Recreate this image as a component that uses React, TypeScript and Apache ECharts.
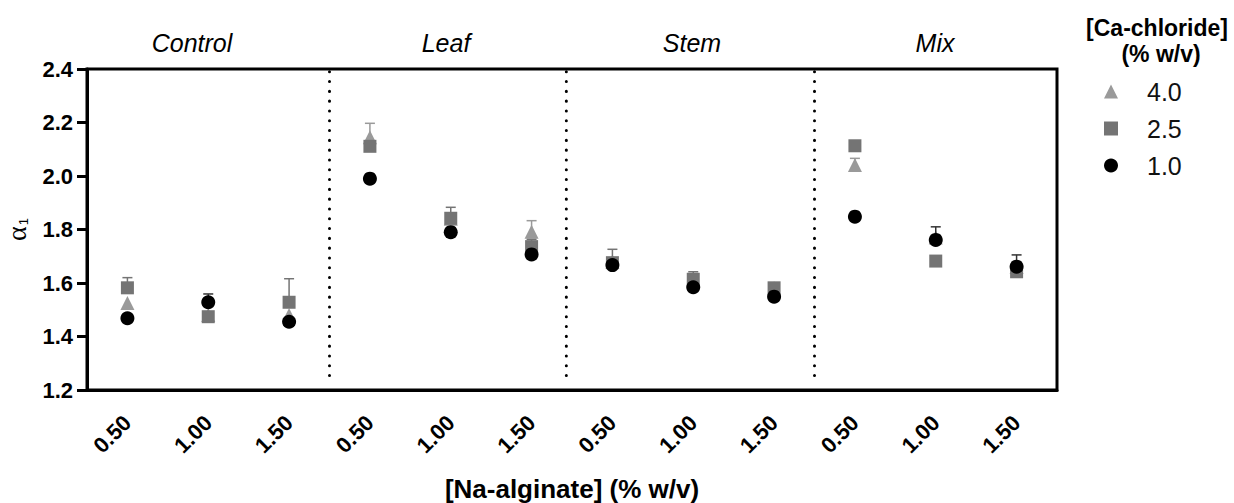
import React, { useEffect, useRef } from "react";
import * as echarts from "echarts";

const alginate = ["0.50", "1.00", "1.50"];
const groupNames = ["Control", "Leaf", "Stem", "Mix"];
const categories = groupNames.flatMap(() => alginate);
const yTicks = [1.2, 2.4, 0.2];

// [Ca-chloride] 4.0 (triangle)
const ca40 = [1.525, 1.48, 1.48, 2.145, 1.84, 1.792, 1.68, 1.61, 1.58, 2.041, 1.77, 1.66];
const ca40Err = [0, 0, 0, 0.052, 0, 0.041, 0, 0, 0, 0.025, 0, 0];
// 2.5 (square)
const ca25 = [1.582, 1.474, 1.528, 2.111, 1.842, 1.736, 1.676, 1.614, 1.582, 2.113, 1.682, 1.642];
const ca25Err = [0.038, 0, 0.088, 0, 0.041, 0.027, 0.05, 0.028, 0, 0, 0, 0];
// 1.0 (circle)
const ca10 = [1.468, 1.528, 1.455, 1.99, 1.79, 1.707, 1.667, 1.584, 1.549, 1.848, 1.761, 1.661];
const ca10Err = [0, 0.031, 0, 0, 0, 0, 0, 0, 0, 0, 0.049, 0.044];

const dividers = [2.5, 5.43, 8.5];

const FONT = "'Liberation Sans', Arial, sans-serif";

const seriesDefs = [
  { name: "4.0", values: ca40, errs: ca40Err, symbol: "triangle", color: "#9a9a9a", size: 14 },
  { name: "2.5", values: ca25, errs: ca25Err, symbol: "rect", color: "#747474", size: 13 },
  { name: "1.0", values: ca10, errs: ca10Err, symbol: "circle", color: "#000000", size: 14 },
];

export default function App() {
  const ref = useRef<HTMLDivElement>(null);
  useEffect(() => {
    if (!ref.current) return;
    const chart = echarts.init(ref.current, null, { renderer: "svg" });
    const series: any[] = [];
    seriesDefs.forEach((s, k) => {
      series.push({
        type: "custom",
        name: s.name + "-err",
        xAxisIndex: 0,
        yAxisIndex: 0,
        z: 2 + k * 2,
        silent: true,
        data: s.values.map((v, i) => [i, v, s.errs[i]]).filter((d) => d[2] > 0),
        encode: { x: 0, y: 1 },
        renderItem: (params: any, api: any) => {
          const x = api.value(0);
          const v = api.value(1);
          const e = api.value(2);
          const b = api.coord([x, v]);
          const t = api.coord([x, v + e]);
          const st = { stroke: s.color === "#000000" ? "#333" : s.color, lineWidth: 1.5 };
          return {
            type: "group",
            children: [
              { type: "line", shape: { x1: b[0], y1: b[1], x2: t[0], y2: t[1] }, style: st },
              { type: "line", shape: { x1: t[0] - 5, y1: t[1], x2: t[0] + 5, y2: t[1] }, style: st },
            ],
          };
        },
      });
      series.push({
        type: "scatter",
        name: s.name,
        xAxisIndex: 0,
        yAxisIndex: 0,
        z: 3 + k * 2,
        symbol: s.symbol,
        symbolSize: s.size,
        itemStyle: { color: s.color, opacity: 1 },
        data: s.values.map((v, i) => [i, v]),
      });
    });
    series.push({
      type: "custom",
      name: "dividers",
      xAxisIndex: 1,
      yAxisIndex: 0,
      z: 1,
      silent: true,
      data: dividers.map((d) => [d, 2.4]),
      encode: { x: 0, y: 1 },
      renderItem: (params: any, api: any) => {
        const x = api.value(0);
        const p1 = api.coord([x, 2.39]);
        const p2 = api.coord([x, 1.225]);
        return {
          type: "line",
          shape: { x1: p1[0], y1: p1[1], x2: p2[0], y2: p2[1] },
          style: { stroke: "#000", lineWidth: 3, lineDash: [0.1, 9.7], lineCap: "round" },
        };
      },
    });

    const titleStyle = {
      fontFamily: FONT,
      fill: "#000",
      textAlign: "center",
      textVerticalAlign: "middle",
    };

    chart.setOption({
      animation: false,
      backgroundColor: "#fff",
      textStyle: { fontFamily: FONT },
      grid: {
        left: 87,
        right: 177,
        top: 69,
        bottom: 113,
        show: true,
        borderColor: "#000",
        borderWidth: 3,
        containLabel: false,
        outerBoundsMode: "none",
      },
      legend: {
        orient: "vertical",
        left: 1099,
        top: 74,
        itemWidth: 14,
        itemHeight: 14,
        itemGap: 12,
        symbolKeepAspect: true,
        data: seriesDefs.map((s) => s.name),
        textStyle: { fontSize: 25, color: "#111", fontFamily: FONT, lineHeight: 22, padding: [0, 0, 0, 24] },
        selectedMode: false,
      },
      xAxis: [
        {
          type: "category",
          data: categories,
          boundaryGap: true,
          axisLine: { onZero: false, lineStyle: { color: "#000", width: 3 } },
          axisTick: { alignWithLabel: true, length: 9, lineStyle: { color: "#000", width: 3 } },
          axisLabel: {
            rotate: 45,
            margin: 29,
            fontSize: 22,
            fontWeight: "bold",
            color: "#000",
            fontFamily: FONT,
            interval: 0,
          },
          splitLine: { show: false },
          name: "[Na-alginate] (% w/v)",
          nameLocation: "middle",
          nameGap: 86,
          nameTextStyle: { fontSize: 26, fontWeight: "bold", color: "#000", fontFamily: FONT },
        },
        {
          type: "value",
          min: -0.5,
          max: 11.5,
          show: false,
          splitLine: { show: false },
        },
      ],
      yAxis: {
        type: "value",
        min: yTicks[0],
        max: yTicks[1],
        interval: yTicks[2],
        axisLine: { show: true, onZero: false, lineStyle: { color: "#000", width: 3 } },
        axisTick: { show: true, length: 10, lineStyle: { color: "#000", width: 3 } },
        axisLabel: {
          formatter: (v: number) => v.toFixed(1),
          fontSize: 22,
          fontWeight: "bold",
          color: "#000",
          margin: 14,
          fontFamily: FONT,
        },
        splitLine: { show: false },
        name: "{a|α}{b|1}",
        nameLocation: "middle",
        nameGap: 57,
        nameRotate: 90,
        nameTextStyle: {
          rich: {
            a: { fontSize: 28, fontFamily: "'Liberation Serif', 'Times New Roman', serif", color: "#000" },
            b: { fontSize: 13, fontFamily: FONT, color: "#000", verticalAlign: "bottom", padding: [12, 0, 0, 1] },
          },
        },
      },
      graphic: [
        ...groupNames.map((g, i) => ({
          type: "text",
          x: [192, 446, 692, 935][i],
          y: 43,
          style: { ...titleStyle, text: g, fontSize: 25, fontStyle: "italic" },
        })),
        {
          type: "text",
          x: 1157,
          y: 28,
          style: { ...titleStyle, text: "[Ca-chloride]", fontSize: 23, fontWeight: "bold" },
        },
        {
          type: "text",
          x: 1161,
          y: 54,
          style: { ...titleStyle, text: "(% w/v)", fontSize: 23, fontWeight: "bold" },
        },
      ],
      series,
    });
    return () => chart.dispose();
  }, []);
  return (
    <div
      ref={ref}
      style={{ position: "fixed", left: 0, top: 0, width: 1234, height: 503, background: "#fff" }}
    />
  );
}
